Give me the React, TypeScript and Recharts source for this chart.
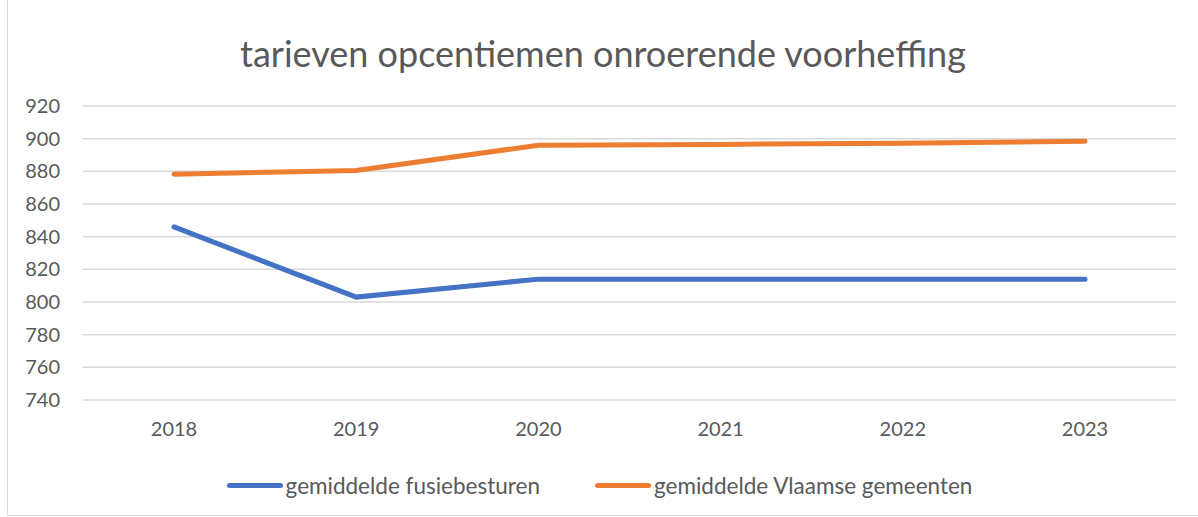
import React from "react";
import { LineChart, Line, XAxis, YAxis, CartesianGrid, Legend } from "recharts";

const jaren = ["2018", "2019", "2020", "2021", "2022", "2023"];
const fusiebesturen = [846, 803, 814, 814, 814, 814];
const vlaamseGemeenten = [878.2, 880.5, 896, 896.5, 897.2, 898.4];
const yTicks = [740, 760, 780, 800, 820, 840, 860, 880, 900, 920];

const BLAUW = "#4472C4";
const ORANJE = "#ED7D31";
const TEKST = "#595959";
const FONT = "Lato, 'Open Sans', sans-serif";

const data = jaren.map((jaar, i) => ({
    jaar,
    fusie: fusiebesturen[i],
    vlaams: vlaamseGemeenten[i],
}));

const items = [
    { label: "gemiddelde fusiebesturen", color: BLAUW },
    { label: "gemiddelde Vlaamse gemeenten", color: ORANJE },
];

const LegendeOnder = () => (
    <div style={{ display: "flex", justifyContent: "center", gap: 55, fontFamily: FONT, fontSize: 22.5, color: TEKST }}>
        {items.map((item) => (
            <div key={item.label} style={{ display: "flex", alignItems: "center" }}>
                <div style={{ width: 56, height: 5, borderRadius: 3, backgroundColor: item.color, marginRight: 3 }} />
                <span>{item.label}</span>
            </div>
        ))}
    </div>
);

export default function App() {
    return (
        <div style={{ position: "absolute", left: 0, top: 0, width: 1198, height: 517, background: "#fff" }}>
            <style>{`body{margin:0}`}</style>
            <div
                style={{
                    position: "absolute",
                    left: 7,
                    top: 0,
                    width: 1190,
                    height: 515,
                    borderLeft: "1px solid #d9d9d9",
                    borderBottom: "1px solid #d9d9d9",
                }}
            />
            <div
                style={{
                    position: "absolute",
                    top: 31,
                    left: 4,
                    width: 1198,
                    textAlign: "center",
                    fontFamily: FONT,
                    fontSize: 36,
                    color: TEKST,
                }}
            >
                tarieven opcentiemen onroerende voorheffing
            </div>
            <LineChart
                width={1198}
                height={517}
                data={data}
                margin={{ top: 106, right: 22, bottom: 0, left: 23 }}
                style={{ position: "absolute", left: 0, top: 0 }}
            >
                <CartesianGrid horizontal vertical={false} stroke="#d9d9d9" strokeWidth={1.5} />
                <XAxis
                    dataKey="jaar"
                    scale="point"
                    padding={{ left: 91, right: 91 }}
                    axisLine={false}
                    tickLine={false}
                    tickSize={0}
                    tickMargin={22}
                    height={90}
                    tick={{ fill: TEKST, fontSize: 20, fontFamily: FONT }}
                />
                <YAxis
                    domain={[740, 920]}
                    ticks={yTicks}
                    interval={0}
                    axisLine={false}
                    tickLine={false}
                    tickSize={0}
                    tickMargin={23}
                    width={60}
                    tick={{ fill: TEKST, fontSize: 20, fontFamily: FONT }}
                />
                <Legend content={<LegendeOnder />} wrapperStyle={{ top: 472 }} />
                <Line
                    type="linear"
                    dataKey="fusie"
                    name="gemiddelde fusiebesturen"
                    stroke={BLAUW}
                    strokeWidth={5}
                    strokeLinecap="round"
                    dot={false}
                    isAnimationActive={false}
                />
                <Line
                    type="linear"
                    dataKey="vlaams"
                    name="gemiddelde Vlaamse gemeenten"
                    stroke={ORANJE}
                    strokeWidth={5}
                    strokeLinecap="round"
                    dot={false}
                    isAnimationActive={false}
                />
            </LineChart>
        </div>
    );
}
